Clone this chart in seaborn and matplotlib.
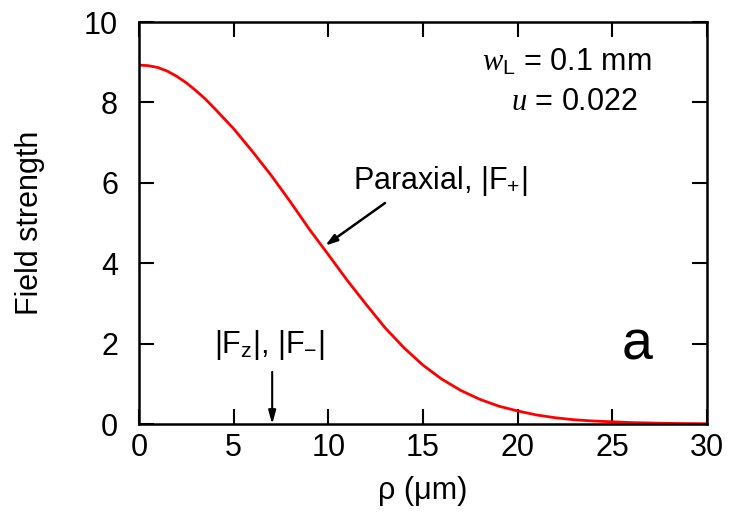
import matplotlib
matplotlib.use("Agg")
import matplotlib.pyplot as plt
import seaborn as sns
import pandas as pd

# Data
rho = [0, 0.5, 1, 1.5, 2, 2.5, 3, 3.5, 4, 5, 6, 7, 8, 9, 10, 11, 12, 13, 14,
       15, 16, 17, 18, 19, 20, 21, 22, 23, 24, 25, 26, 27, 28, 29, 30]
field = [8.93, 8.915, 8.87, 8.78, 8.65, 8.49, 8.30, 8.09, 7.85, 7.35, 6.78,
         6.18, 5.53, 4.85, 4.22, 3.58, 2.98, 2.40, 1.90, 1.47, 1.12, 0.84,
         0.62, 0.45, 0.33, 0.23, 0.16, 0.11, 0.08, 0.06, 0.04, 0.03, 0.02,
         0.015, 0.01]
xticks = [0, 5, 10, 15, 20, 25, 30]
yticks = [0, 2, 4, 6, 8, 10]

df = pd.DataFrame({"rho": rho, "field": field})

sns.set_style("ticks")
plt.rcParams["font.family"] = ["Liberation Sans", "DejaVu Sans"]
plt.rcParams["text.color"] = "black"
plt.rcParams["axes.labelcolor"] = "black"
plt.rcParams["xtick.color"] = "black"
plt.rcParams["ytick.color"] = "black"
plt.rcParams["mathtext.fontset"] = "custom"
plt.rcParams["mathtext.it"] = "Liberation Serif:italic"
plt.rcParams["mathtext.rm"] = "Liberation Sans"
plt.rcParams["mathtext.sf"] = "Liberation Sans"

FS = 22

fig = plt.figure(figsize=(7.31, 5.25), dpi=100)
ax = fig.add_axes([0.190, 0.192, 0.777, 0.766])

sns.lineplot(data=df, x="rho", y="field", ax=ax, color="#ff0000", linewidth=2.0)

ax.set_xlim(0, 30)
ax.set_ylim(0, 10)
ax.set_xticks(xticks)
ax.set_yticks(yticks)
ax.tick_params(axis="both", which="major", direction="in", length=11, width=1.5,
               labelsize=FS, top=True, right=True, color="black",
               labelcolor="black")
ax.tick_params(axis="x", pad=6)
ax.tick_params(axis="y", pad=15)
for s in ax.spines.values():
    s.set_linewidth(1.8)
    s.set_visible(True)
    s.set_color("black")

ax.set_xlabel("ρ (μm)", fontsize=FS, labelpad=10)
ax.set_ylabel("Field strength", fontsize=FS, labelpad=28)

ax.text(22.6, 9.0, r"$w_\mathsf{L}$ = 0.1 mm", fontsize=FS, ha="center", va="center")
ax.text(23.0, 8.0, r"$u$ = 0.022", fontsize=FS, ha="center", va="center")

ax.text(15.9, 6.05, r"Paraxial, |F$_{\mathsf{+}}$|", fontsize=FS,
        ha="center", va="center")
ax.annotate("", xy=(9.84, 4.44), xytext=(13.0, 5.5),
            arrowprops=dict(arrowstyle="-|>,head_length=0.7,head_width=0.22",
                            color="black", lw=1.8, shrinkA=0, shrinkB=0))
ax.text(6.9, 1.97, r"|F$_{\mathsf{z}}$|, |F$_{\mathsf{-}}$|", fontsize=FS,
        ha="center", va="center")
ax.annotate("", xy=(7.04, 0.0), xytext=(7.04, 1.3),
            arrowprops=dict(arrowstyle="-|>,head_length=0.8,head_width=0.22",
                            color="black", lw=1.5, shrinkA=0, shrinkB=0))
ax.text(26.3, 1.95, "a", fontsize=40, ha="center", va="center")

fig.savefig("out.png", dpi=100)
